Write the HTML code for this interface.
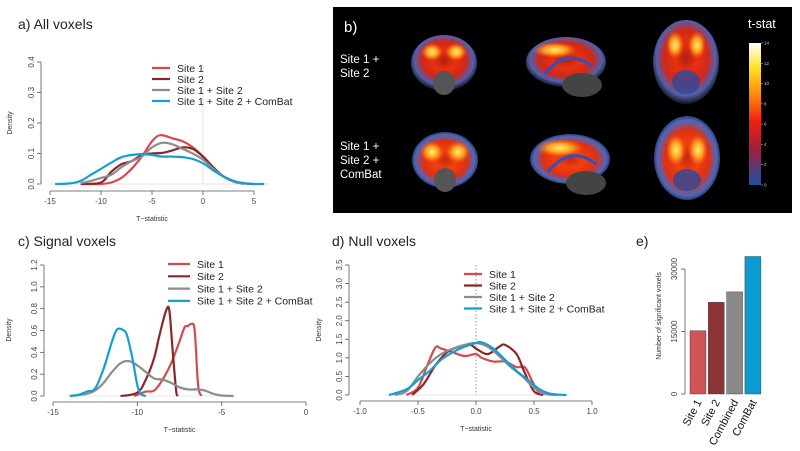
<!DOCTYPE html>
<html><head><meta charset="utf-8">
<style>
html,body{margin:0;padding:0;background:#fff;}
svg{display:block;font-family:"Liberation Sans",sans-serif;}
.tick{font-size:8px;fill:#444;}
.lab{font-size:7px;fill:#333;}
.title{font-size:14px;fill:#222;font-family:"Liberation Sans",sans-serif;}
.leg{font-size:10.5px;fill:#222;}
</style></head>
<body>
<svg id="fig" width="800" height="451" viewBox="0 0 800 451">
<defs>
<radialGradient id="hot" cx="50%" cy="45%" r="55%">
<stop offset="0%" stop-color="#b02010"/><stop offset="30%" stop-color="#e83010"/><stop offset="60%" stop-color="#d02818"/><stop offset="82%" stop-color="#5060b0"/><stop offset="100%" stop-color="#151515"/>
</radialGradient>
<radialGradient id="hot2" cx="50%" cy="50%" r="55%">
<stop offset="0%" stop-color="#c82810"/><stop offset="30%" stop-color="#f04010"/><stop offset="60%" stop-color="#e03010"/><stop offset="82%" stop-color="#4a68c0"/><stop offset="100%" stop-color="#151515"/>
</radialGradient>
<radialGradient id="yel" cx="50%" cy="50%" r="50%">
<stop offset="0%" stop-color="#ffee70"/><stop offset="50%" stop-color="#ffa020"/><stop offset="100%" stop-color="#ff6010" stop-opacity="0"/>
</radialGradient>
<linearGradient id="cbar" x1="0" y1="1" x2="0" y2="0">
<stop offset="0%" stop-color="#2050a0"/><stop offset="25%" stop-color="#9a2040"/><stop offset="45%" stop-color="#f02010"/><stop offset="65%" stop-color="#ff9010"/><stop offset="82%" stop-color="#ffe020"/><stop offset="100%" stop-color="#ffffff"/>
</linearGradient>
</defs>
<g id="panels"></g>
<g>
<rect x="333" y="7" width="459" height="206" fill="#000"/>
<text x="344" y="32" fill="#fff" font-size="15">b)</text>
<text x="340" y="63" fill="#fff" font-size="11.5">Site 1 +</text>
<text x="340" y="77" fill="#fff" font-size="11.5">Site 2</text>
<text x="340" y="150" fill="#fff" font-size="11.5">Site 1 +</text>
<text x="340" y="164" fill="#fff" font-size="11.5">Site 2 +</text>
<text x="340" y="178" fill="#fff" font-size="11.5">ComBat</text>
<g><ellipse cx="444" cy="63" rx="33" ry="28" fill="url(#hot)"/><ellipse cx="432" cy="52" rx="11" ry="9" fill="url(#yel)"/><ellipse cx="456" cy="52" rx="11" ry="9" fill="url(#yel)"/><ellipse cx="444" cy="83" rx="11" ry="12" fill="#555"/></g>
<g><ellipse cx="566" cy="62" rx="40" ry="25" fill="url(#hot)"/><ellipse cx="555" cy="50" rx="22" ry="8" fill="url(#yel)"/><ellipse cx="582" cy="85" rx="20" ry="12" fill="#444"/><path d="M545,74 Q566,47 592,66" stroke="#3050c0" stroke-width="3" fill="none"/></g>
<g><ellipse cx="686" cy="62" rx="33" ry="42" fill="url(#hot)"/><ellipse cx="675" cy="45" rx="9" ry="14" fill="url(#yel)"/><ellipse cx="697" cy="45" rx="9" ry="14" fill="url(#yel)"/><ellipse cx="686" cy="82" rx="14" ry="12" fill="#2a4aa0" opacity="0.8"/></g>
<g><ellipse cx="445" cy="160" rx="33" ry="28" fill="url(#hot2)"/><ellipse cx="432" cy="152" rx="12" ry="11" fill="url(#yel)"/><ellipse cx="458" cy="152" rx="12" ry="11" fill="url(#yel)"/><ellipse cx="445" cy="180" rx="11" ry="12" fill="#555"/></g>
<g><ellipse cx="570" cy="159" rx="40" ry="25" fill="url(#hot2)"/><ellipse cx="560" cy="148" rx="24" ry="9" fill="url(#yel)"/><ellipse cx="586" cy="183" rx="20" ry="12" fill="#444"/><path d="M548,172 Q570,144 596,164" stroke="#3050c0" stroke-width="3" fill="none"/></g>
<g><ellipse cx="687" cy="158" rx="33" ry="42" fill="url(#hot2)"/><ellipse cx="676" cy="150" rx="10" ry="16" fill="url(#yel)"/><ellipse cx="698" cy="150" rx="10" ry="16" fill="url(#yel)"/><ellipse cx="687" cy="180" rx="14" ry="11" fill="#2a4aa0" opacity="0.8"/></g>
<text x="748" y="28" fill="#fff" font-size="12.5">t-stat</text>
<rect x="749" y="43" width="12" height="142" fill="url(#cbar)"/>
<g id="cbticks" font-size="4.5" fill="#ccc"></g>
</g>
</svg>
<script>
const seriesNames = ["Site 1","Site 2","Site 1 + Site 2","Site 1 + Site 2 + ComBat"];
const seriesColors = ["#d64a4c","#8a2629","#8c8c8c","#139fd6"];
const aSite1X=[-12,-10,-9,-8,-7,-6,-5,-4.2,-3,-2,-1,0,1,2,3,4,5];
const aSite1Y=[0,0,0.005,0.02,0.05,0.09,0.14,0.16,0.15,0.14,0.12,0.09,0.05,0.025,0.01,0.002,0];
const aSite2X=[-12,-10,-9,-8,-7,-6,-5,-4,-3,-2,-1,0,1,2,3,4];
const aSite2Y=[0,0.005,0.04,0.065,0.075,0.095,0.1,0.102,0.11,0.12,0.115,0.09,0.055,0.025,0.008,0.001];
const aCombX=[-12,-11,-10,-9,-8,-7,-6,-5,-4,-3,-2,-1,0,1,2,3,4];
const aCombY=[0.003,0.01,0.02,0.03,0.055,0.075,0.09,0.12,0.135,0.13,0.115,0.1,0.08,0.05,0.025,0.008,0];
const aCombatX=[-14.5,-13,-12,-11,-10,-9,-8,-7,-6,-5,-4,-3,-2,-1,0,1,2,3,4,5,6];
const aCombatY=[0,0.002,0.01,0.03,0.05,0.07,0.088,0.095,0.098,0.095,0.09,0.09,0.088,0.082,0.068,0.045,0.025,0.01,0.003,0,0];
const aXTicks=[-15,-10,-5,0,5];
const aYTicks=[0,0.1,0.2,0.3,0.4];
const cSite1X=[-10.2,-10,-9.5,-9,-8.5,-8,-7.5,-7.2,-7,-6.8,-6.6,-6.4,-6.2];
const cSite1Y=[0,0.01,0.04,0.05,0.15,0.3,0.5,0.63,0.64,0.66,0.6,0.1,0];
const cSite2X=[-11,-10,-9.5,-9,-8.7,-8.3,-8.1,-7.9,-7.7,-7.6];
const cSite2Y=[0,0.03,0.15,0.35,0.55,0.78,0.78,0.4,0.05,0];
const cCombX=[-14,-13,-12.5,-12,-11.5,-11,-10.5,-10,-9.5,-9,-8.5,-8,-7.5,-7,-6.5,-6,-5.5,-5,-4.3];
const cCombY=[0,0.02,0.05,0.12,0.22,0.3,0.32,0.28,0.22,0.16,0.15,0.12,0.08,0.06,0.06,0.05,0.02,0.005,0];
const cCombatX=[-14,-13.5,-13,-12.5,-12,-11.5,-11.2,-10.8,-10.6,-10.3,-10,-9.8,-9.5];
const cCombatY=[0,0.01,0.04,0.07,0.25,0.5,0.61,0.6,0.55,0.35,0.1,0.02,0];
const cXTicks=[-15,-10,-5,0];
const cYTicks=[0,0.2,0.4,0.6,0.8,1.0,1.2];
const dSite1X=[-0.6,-0.5,-0.42,-0.35,-0.3,-0.2,-0.1,0,0.05,0.15,0.25,0.35,0.42,0.48,0.55];
const dSite1Y=[0,0.2,0.8,1.28,1.25,1.15,1.05,1.1,1.0,0.9,0.9,0.75,0.75,0.4,0];
const dSite2X=[-0.55,-0.45,-0.35,-0.25,-0.15,-0.05,0,0.1,0.2,0.25,0.35,0.42,0.5,0.58];
const dSite2Y=[0,0.3,0.8,1.15,1.3,1.35,1.25,1.1,1.3,1.35,1.1,0.6,0.1,0];
const dCombX=[-0.7,-0.6,-0.5,-0.4,-0.3,-0.2,-0.1,0,0.1,0.2,0.3,0.4,0.5,0.6,0.7];
const dCombY=[0,0.1,0.5,0.85,1.1,1.25,1.35,1.4,1.3,1.05,0.75,0.5,0.2,0.03,0];
const dCombatX=[-0.75,-0.6,-0.5,-0.4,-0.3,-0.2,-0.1,0,0.05,0.15,0.25,0.35,0.45,0.55,0.65,0.78];
const dCombatY=[0,0.15,0.4,0.65,0.95,1.15,1.3,1.4,1.42,1.25,0.95,0.65,0.4,0.15,0.03,0];
const dXTicks=[-1.0,-0.5,0.0,0.5,1.0];
const dYTicks=[0,0.5,1.0,1.5,2.0,2.5,3.0,3.5];
const eCategories=["Site 1","Site 2","Combined","ComBat"];
const eValues=[15200,22000,24500,33000];
const eColors=["#d05356","#8c3337","#8a8a8a","#0c9bd0"];
const eYTicks=[0,15000,30000];
const cbTickLabels=["0","2","4","6","8","10","12","14"];

const NS="http://www.w3.org/2000/svg";
const root=document.getElementById("panels");
function mk(tag,attrs,parent){const e=document.createElementNS(NS,tag);for(const k in attrs)e.setAttribute(k,attrs[k]);(parent||root).appendChild(e);return e;}
function fmt(v,dec){return dec>0?v.toFixed(dec):String(v);}
function smoothPath(pts){
  let d="M"+pts[0][0].toFixed(1)+","+pts[0][1].toFixed(1);
  for(let i=0;i<pts.length-1;i++){
    const p0=pts[Math.max(0,i-1)],p1=pts[i],p2=pts[i+1],p3=pts[Math.min(pts.length-1,i+2)];
    const c1x=p1[0]+(p2[0]-p0[0])/6,c1y=p1[1]+(p2[1]-p0[1])/6,c2x=p2[0]-(p3[0]-p1[0])/6,c2y=p2[1]-(p3[1]-p1[1])/6;
    d+=` C${c1x.toFixed(1)},${c1y.toFixed(1)} ${c2x.toFixed(1)},${c2y.toFixed(1)} ${p2[0].toFixed(1)},${p2[1].toFixed(1)}`;
  }
  return d;
}
function densityPanel(o){
  const g=mk("g",{});
  
  
  const sx=v=>o.x0+(v-o.xmin)/(o.xmax-o.xmin)*(o.x1-o.x0);
  const sy=v=>o.y0-(v-o.ymin)/(o.ymax-o.ymin)*(o.y0-o.y1);
  const t=mk("text",{x:o.tx,y:o.ty,class:"title"},g);t.textContent=o.title;
  
  
  const ya=mk("g",{},g);
  
  
  mk("line",{x1:o.yax,x2:o.yax,y1:sy(o.yTicks[0]),y2:sy(o.yTicks[o.yTicks.length-1]),stroke:"#555","stroke-width":0.8},ya);
  o.yTicks.forEach(v=>{const y=sy(v);mk("line",{x1:o.yax-4,x2:o.yax,y1:y,y2:y,stroke:"#555","stroke-width":0.8},ya);
    const tx=mk("text",{x:o.yax-7,y:y,class:"tick","text-anchor":"middle",transform:`rotate(-90 ${o.yax-7} ${y})`},ya);tx.textContent=fmt(v,1);});
  const yl=mk("text",{x:o.ylx,y:o.yly,class:"lab","text-anchor":"middle",transform:`rotate(-90 ${o.ylx} ${o.yly})`},g);yl.textContent="Density";
  
  
  const xa=mk("g",{},g);
  
  
  mk("line",{x1:sx(o.xTicks[0]),x2:sx(o.xTicks[o.xTicks.length-1]),y1:o.xay,y2:o.xay,stroke:"#555","stroke-width":0.8},xa);
  o.xTicks.forEach(v=>{const x=sx(v);mk("line",{x1:x,x2:x,y1:o.xay,y2:o.xay+4,stroke:"#555","stroke-width":0.8},xa);
    const tx=mk("text",{x:x,y:o.xay+13,class:"tick","text-anchor":"middle"},xa);tx.textContent=fmt(v,o.xdec);});
  const xl=mk("text",{x:(sx(o.xTicks[0])+sx(o.xTicks[o.xTicks.length-1]))/2,y:o.xay+30,class:"lab","text-anchor":"middle"},g);xl.textContent="T\u2212statistic";
  
  
  mk("line",{x1:sx(o.blx[0]),x2:sx(o.blx[1]),y1:sy(0),y2:sy(0),stroke:"#ddd","stroke-width":0.7},g);
  if(o.vline!==undefined){mk("line",{x1:sx(o.vline),x2:sx(o.vline),y1:o.vy1,y2:sy(0),stroke:o.vdash?"#777":"#ddd","stroke-width":0.8,"stroke-dasharray":o.vdash?"1.5,2":"none"},g);}
  o.series.forEach((s,i)=>{
    const pts=s[0].map((x,k)=>[sx(x),sy(s[1][k])]);
    const p=mk("path",{d:smoothPath(pts),fill:"none",stroke:seriesColors[i],"stroke-width":2.2,"stroke-linejoin":"round"},g);
    
    
  });
  const lg=mk("g",{},g);
  
  
  seriesNames.forEach((n,i)=>{const y=o.ly+i*o.lh;
    const le=mk("g",{},lg);
    
    
    mk("line",{x1:o.lx,x2:o.lx+o.lw,y1:y,y2:y,stroke:seriesColors[i],"stroke-width":2.2},le);
    const tx=mk("text",{x:o.lx+o.lw+7,y:y+3.8,class:"leg"},le);tx.textContent=n;});
}
densityPanel({name:"panel-a-all-voxels",title:"a)  All voxels",tx:18,ty:29,x0:50,x1:254,xmin:-15,xmax:5,y0:184,y1:62,ymin:0,ymax:0.4,
  yax:41,xay:191,xdec:0,ylx:12,yly:123,xTicks:aXTicks,yTicks:aYTicks,blx:[-15,6.5],vline:0,vy1:65,vdash:false,
  series:[[aSite1X,aSite1Y],[aSite2X,aSite2Y],[aCombX,aCombY],[aCombatX,aCombatY]],lx:152,lw:18,ly:68,lh:11});
densityPanel({name:"panel-c-signal-voxels",title:"c)  Signal voxels",tx:18,ty:246,x0:53,x1:306,xmin:-15,xmax:0,y0:396,y1:265,ymin:0,ymax:1.2,
  yax:44,xay:402,xdec:0,ylx:11,yly:330,xTicks:cXTicks,yTicks:cYTicks,blx:[-14.3,-4.2],
  series:[[cSite1X,cSite1Y],[cSite2X,cSite2Y],[cCombX,cCombY],[cCombatX,cCombatY]],lx:168,lw:22,ly:264,lh:12.3});
densityPanel({name:"panel-d-null-voxels",title:"d)  Null voxels",tx:332,ty:246,x0:360,x1:592,xmin:-1,xmax:1,y0:395,y1:265,ymin:0,ymax:3.5,
  yax:349,xay:401,xdec:1,ylx:321,yly:330,xTicks:dXTicks,yTicks:dYTicks,blx:[-0.78,0.8],vline:0,vy1:265,vdash:true,
  series:[[dSite1X,dSite1Y],[dSite2X,dSite2Y],[dCombX,dCombY],[dCombatX,dCombatY]],lx:464,lw:18,ly:274,lh:11.5});

(function(){
  const g=mk("g",{});
  
  
  const t=mk("text",{x:636,y:246,class:"title"},g);t.textContent="e)";
  const y0=394,yTop=269,vTop=30000;
  const sy=v=>y0-v/vTop*(y0-yTop);
  const bx0=690,bw=16,gap=2.3;
  const ya=mk("g",{},g);
  
  
  const ax=685;
  mk("line",{x1:ax,x2:ax,y1:sy(eYTicks[0]),y2:sy(eYTicks[eYTicks.length-1]),stroke:"#555","stroke-width":0.8},ya);
  eYTicks.forEach(v=>{const y=sy(v);mk("line",{x1:ax-4,x2:ax,y1:y,y2:y,stroke:"#555","stroke-width":0.8},ya);
    const tx=mk("text",{x:ax-8,y:y,class:"tick","text-anchor":"middle","font-size":"7",transform:`rotate(-90 ${ax-8} ${y})`},ya);tx.textContent=String(v);});
  const yl=mk("text",{x:661,y:316,class:"lab","text-anchor":"middle",transform:"rotate(-90 661 316)"},g);yl.textContent="Number of significant voxels";
  
  
  eValues.forEach((v,i)=>{const x=bx0+i*(bw+gap);
    const r=mk("rect",{x:x,y:sy(v),width:bw,height:y0-sy(v),fill:eColors[i],stroke:"#333","stroke-width":0.4},g);
    
    
    const cx=x+bw/2+4,cy=y0+8;
    const tx=mk("text",{x:cx,y:cy,"font-size":"11","text-anchor":"end",fill:"#111","font-family":"Liberation Sans, sans-serif",transform:`rotate(-62 ${cx} ${cy})`},g);tx.textContent=eCategories[i];
    
    
  });
})();
(function(){const g=document.getElementById("cbticks");
  cbTickLabels.forEach((l,i)=>{const y=185-i*(142/7);
    mk("line",{x1:761,x2:763,y1:y,y2:y,stroke:"#ccc","stroke-width":0.5},g);
    const t=mk("text",{x:764,y:y+1.5},g);t.textContent=l;});})();
</script>
</body></html>
